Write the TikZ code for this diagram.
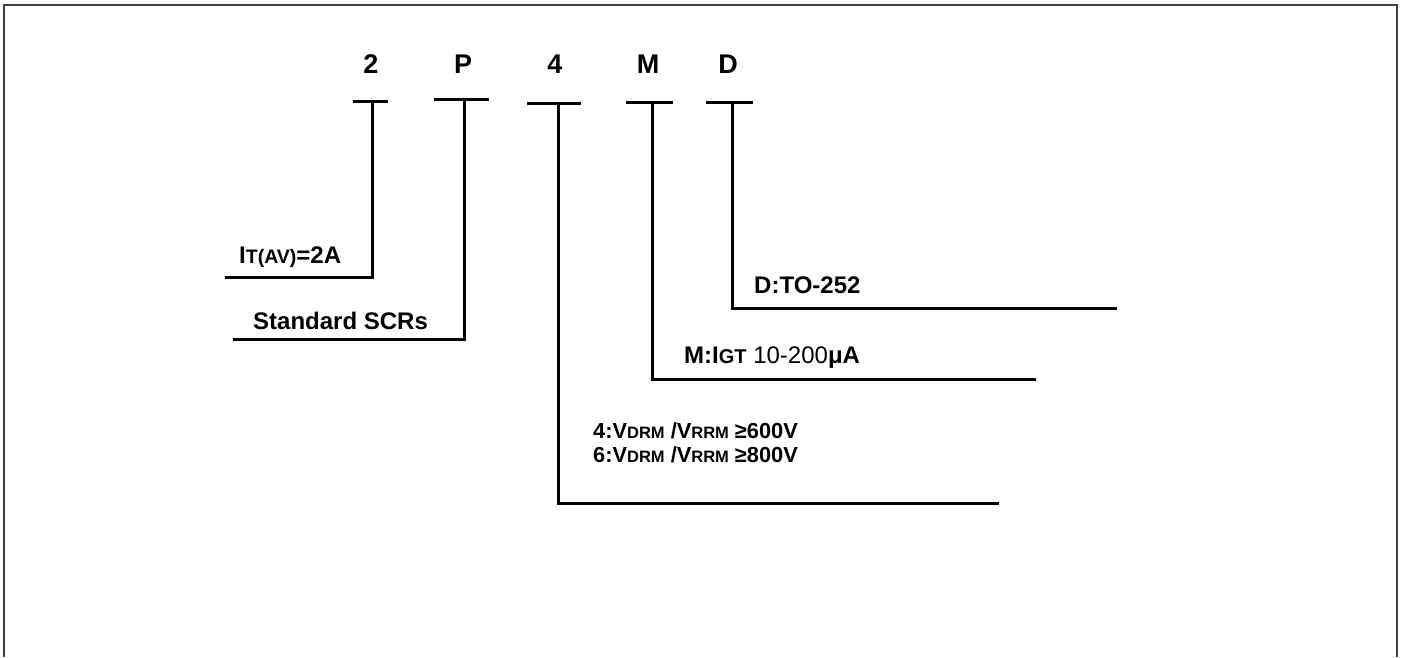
\documentclass[tikz,border=0pt]{standalone}
\usepackage{fontspec}
\setmainfont{Liberation Sans}
\newcommand{\mysub}[2]{{\fontsize{#1}{#1}\selectfont #2}}
\begin{document}
\begin{tikzpicture}[x=1pt,y=-1pt,
  conn/.style={line width=3pt, line cap=rect},
  bar/.style={line width=3pt},
  frame/.style={line width=2pt, draw=black!75},
  code/.style={font=\fontsize{27}{27}\selectfont\bfseries, anchor=base, inner sep=0pt},
  lbl/.style={font=\fontsize{24}{24}\selectfont\bfseries, anchor=base west, inner sep=0pt},
  lbls/.style={font=\fontsize{21.8}{21.8}\selectfont\bfseries, anchor=base west, inner sep=0pt, align=left}]
\useasboundingbox (0,0) rectangle (1403,657);
% frame
\draw[frame] (4,657) -- (4,5) -- (1397,5) -- (1397,657);
% code letters
\node[code] (c2) at (371,73) {2};
\node[code] (cP) at (463,73) {P};
\node[code] (c4) at (555,73) {4};
\node[code] (cM) at (648,73) {M};
\node[code] (cD) at (728,73) {D};
% T bars
\coordinate (b2l) at (353,101); \coordinate (b2r) at (388,101);
\coordinate (bPl) at (434,99);  \coordinate (bPr) at (489,99);
\coordinate (b4l) at (527,103); \coordinate (b4r) at (581,103);
\coordinate (bMl) at (626,102); \coordinate (bMr) at (673,102);
\coordinate (bDl) at (706,102); \coordinate (bDr) at (753,102);
\draw[bar] (b2l) -- (b2r);
\draw[bar] (bPl) -- (bPr);
\draw[bar] (b4l) -- (b4r);
\draw[bar] (bMl) -- (bMr);
\draw[bar] (bDl) -- (bDr);
% stems
\coordinate (t2) at (372,101); \coordinate (k2) at (372,277); \coordinate (e2) at (226,277);
\coordinate (tP) at (464,99);  \coordinate (kP) at (464,339); \coordinate (eP) at (234,339);
\coordinate (t4) at (558,103); \coordinate (k4) at (558,503); \coordinate (e4) at (997,503);
\coordinate (tM) at (652,102); \coordinate (kM) at (652,379); \coordinate (eM) at (1034,379);
\coordinate (tD) at (732,102); \coordinate (kD) at (732,308); \coordinate (eD) at (1115,308);
\draw[conn] (t2) -- (k2) -- (e2);
\draw[conn] (tP) -- (kP) -- (eP);
\draw[conn] (t4) -- (k4) -- (e4);
\draw[conn] (tM) -- (kM) -- (eM);
\draw[conn] (tD) -- (kD) -- (eD);
% labels
\node[lbl] (l2) at (239,263) {I\mysub{19.5}{T(AV)}=2A};
\node[lbl] (lP) at (253,329) {Standard SCRs};
\node[lbl] (lM) at (684,363) {M:I\mysub{20}{GT} \mdseries 10-200\bfseries μA};
\node[lbl] (lD) at (754,293) {D:TO-252};
\node[lbls] (l4a) at (593,438) {4:V\mysub{16.5}{DRM} /V\mysub{16.5}{RRM} ≥600V};
\node[lbls] (l4b) at (593,462) {6:V\mysub{16.5}{DRM} /V\mysub{16.5}{RRM} ≥800V};
\end{tikzpicture}
\end{document}
